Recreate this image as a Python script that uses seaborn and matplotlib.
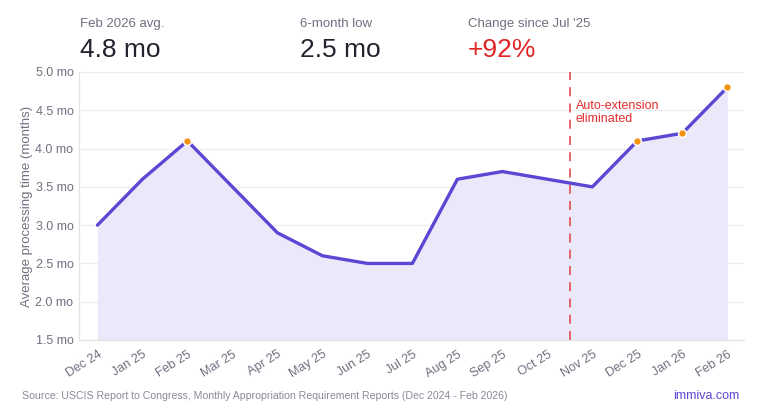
import matplotlib
matplotlib.use("Agg")
import matplotlib.pyplot as plt
import seaborn as sns
import numpy as np
import pandas as pd

months = ["Dec 24", "Jan 25", "Feb 25", "Mar 25", "Apr 25", "May 25", "Jun 25", "Jul 25",
          "Aug 25", "Sep 25", "Oct 25", "Nov 25", "Dec 25", "Jan 26", "Feb 26"]
avg_months = [3.0, 3.6, 4.1, 3.5, 2.9, 2.6, 2.5, 2.5, 3.6, 3.7, 3.6, 3.5, 4.1, 4.2, 4.8]
highlight = ["Feb 25", "Dec 25", "Jan 26", "Feb 26"]
yticks = [1.5, 2.0, 2.5, 3.0, 3.5, 4.0, 4.5, 5.0]
event_pos = 10.5
event_label = "Auto-extension\neliminated"

df = pd.DataFrame({"month": months, "value": avg_months})
df["pos"] = np.arange(len(months))
hl = df[df["month"].isin(highlight)]

sns.set_theme(style="white")
plt.rcParams["font.family"] = ["Liberation Sans", "DejaVu Sans"]

fig = plt.figure(figsize=(7.6, 4.08), dpi=100)
ax = fig.add_axes([79/760, 1-340/408, (744-79)/760, (340-72)/408])

LINE = "#5a48d4"
FILL = "#ebe8f9"
GRAY = "#707080"
ax.fill_between(df["pos"], df["value"], 1.5, color=FILL, linewidth=0, zorder=1)
sns.lineplot(data=df, x="pos", y="value", ax=ax, color=LINE, linewidth=2.4, zorder=3)
sns.scatterplot(data=hl, x="pos", y="value", ax=ax, color="#f39314", s=32,
                edgecolor="white", linewidth=1.1, zorder=4)

ax.axvline(event_pos, color="#e05a5a", linestyle=(0, (5, 4)), linewidth=1.3, zorder=2)
ax.text(event_pos + 0.13, 4.64, event_label, color="#e02d2d", fontsize=9,
        va="top", ha="left", linespacing=1.2)

ax.set_xlim(-0.41, 14.37)
ax.set_ylim(1.5, 5.0)
ax.set_yticks(yticks)
ax.set_yticklabels([f"{v:.1f} mo" for v in yticks])
ax.set_xticks(df["pos"])
ax.set_xticklabels(months, rotation=32, ha="right", rotation_mode="anchor")
ax.tick_params(axis="both", length=0, colors=GRAY, labelsize=9)
ax.tick_params(axis="x", pad=6)
ax.tick_params(axis="y", pad=4)
ax.grid(axis="y", color="#ececec", linewidth=0.9)
ax.set_axisbelow(True)
for s in ["top", "right"]:
    ax.spines[s].set_visible(False)
for s in ["left", "bottom"]:
    ax.spines[s].set_color("#e3e3e3")
    ax.spines[s].set_linewidth(0.9)
ax.set_xlabel("")
ax.set_ylabel("Average processing time (months)", color=GRAY, fontsize=9.5, labelpad=2)

# header stats
fig.text(80/760, 1-27/408, "Feb 2026 avg.", color=GRAY, fontsize=9.5, ha="left", va="baseline")
fig.text(80/760, 1-57/408, "4.8 mo", color="#23232f", fontsize=19, ha="left", va="baseline")
fig.text(300/760, 1-27/408, "6-month low", color=GRAY, fontsize=9.5, ha="left", va="baseline")
fig.text(300/760, 1-57/408, "2.5 mo", color="#23232f", fontsize=19, ha="left", va="baseline")
fig.text(468/760, 1-27/408, "Change since Jul '25", color=GRAY, fontsize=9.5, ha="left", va="baseline")
fig.text(468/760, 1-57/408, "+92%", color="#e02424", fontsize=19, ha="left", va="baseline")

# footer
fig.text(22/760, 1-399/408, "Source: USCIS Report to Congress, Monthly Appropriation Requirement Reports (Dec 2024 - Feb 2026)",
         color="#8a8a9a", fontsize=7.6, ha="left", va="baseline")
fig.text(739/760, 1-399/408, "immiva.com", color="#5a48d4", fontsize=9, ha="right", va="baseline")

fig.savefig("out.png", dpi=100, facecolor="white")
